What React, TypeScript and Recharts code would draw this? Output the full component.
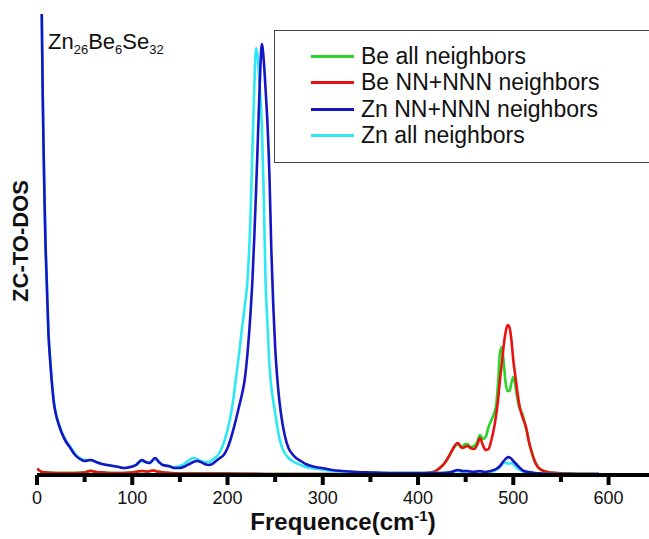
import React from "react";
import { LineChart, Line, XAxis, YAxis, Legend } from "recharts";

// Zn-weighted curves share one frequency grid (cm-1), values in arbitrary DOS units
const znFreq = [
  0, 1, 2, 3, 4, 5, 6, 7, 8, 9, 10, 12, 14, 16, 18, 20, 23, 26, 30, 35, 40, 45, 50, 56, 62, 68, 74, 80, 86,
  92, 98, 104, 110, 114, 118, 124, 128, 132, 138, 144, 150, 156, 160, 164, 168, 172, 176, 180, 184, 188,
  192, 196, 200, 203, 206, 209, 212, 215, 218, 221, 224, 226, 228, 230, 232, 234, 236, 238, 240, 242, 244,
  246, 248, 250, 253, 256, 260, 264, 268, 272, 277, 282, 288, 295, 302, 310, 320, 335, 350, 370, 390, 410,
  425, 435, 442, 447, 452, 458, 465, 470, 476, 482, 486, 490, 493, 495, 497, 500, 503, 507, 511, 516, 522,
  530, 545, 560, 575, 590,
];
const znNNN = [
  720, 650, 590, 540, 500, 460, 380, 320, 270, 228, 200, 142, 112, 88, 70, 60, 50, 42, 34, 27, 20, 16, 14,
  15, 13, 11, 10, 9, 8, 7, 8, 10, 15, 13, 12, 17, 13, 10, 9, 7, 7, 9, 11, 13, 14, 13, 11, 10, 11, 14, 17,
  20, 27, 35, 45, 56, 68, 80, 95, 122, 160, 192, 235, 285, 340, 395, 431, 415, 385, 350, 300, 225, 170,
  128, 88, 62, 40, 27, 21, 17, 14, 11, 9, 7.5, 6.5, 5, 4, 3, 2.5, 2, 2, 2, 2, 3, 5, 4, 4, 3, 4, 3, 4, 6, 9,
  14, 17, 18, 17, 14, 11, 7, 4, 3, 2, 1.5, 1, 1, 1, 1,
];
const znAll = [
  720, 650, 590, 540, 500, 460, 382, 322, 272, 230, 202, 144, 114, 90, 72, 61, 51, 43, 35, 28, 21, 17, 15,
  15, 13, 11, 10, 9, 8, 7, 8, 10, 14, 13, 12, 16, 13, 10, 9, 8, 9, 12, 15, 17, 16, 14, 13, 13, 15, 18, 23,
  32, 45, 58, 75, 98, 120, 145, 168, 195, 255, 320, 385, 427, 415, 385, 350, 280, 192, 150, 110, 88, 74,
  62, 44, 31, 22, 17, 14, 12, 10, 8, 7, 6, 5, 4, 3.5, 3, 2.5, 2, 2, 2, 2, 3, 4, 3, 3, 3, 3, 3, 3, 5, 8, 12,
  12, 11, 12, 11, 8, 5, 3, 2.5, 2, 1.5, 1, 1, 1, 1,
];

// Be-weighted curves share another grid
const beFreq = [
  0, 2, 5, 10, 20, 30, 40, 50, 56, 62, 70, 80, 90, 100, 110, 116, 122, 126, 130, 140, 160, 200, 250, 300,
  350, 400, 410, 416, 420, 424, 428, 432, 436, 439, 442, 445, 447, 450, 452, 455, 459, 462, 465, 468, 471,
  474, 477, 480, 482, 484, 486, 488, 490, 492, 494, 496, 498, 500, 502, 504, 506, 508, 510, 512, 514, 516,
  519, 522, 525, 528, 532, 538, 545, 555, 570, 590,
];
const beNNN = [
  6, 5, 3, 2.5, 2, 2, 2, 2.5, 4, 3, 2.5, 2, 2, 2.5, 4, 3.5, 4.5, 3.5, 3, 2, 1.5, 1.5, 1, 1, 1, 1.5, 2, 3, 5,
  8, 12, 18, 25, 30, 32, 28, 27, 28.5, 29, 27, 26, 30, 37, 30, 25, 26, 35, 48, 60, 75, 95, 112, 130, 143,
  150, 148, 135, 115, 100, 85, 72, 63, 57, 52, 45, 35, 24, 15, 9, 6, 4, 2.5, 2, 1.5, 1, 1,
];
const beAll = [
  6, 5, 3, 2.5, 2, 2, 2, 2.5, 4.5, 3, 2.5, 2, 2, 2.5, 4, 3.5, 4.5, 3.5, 3, 2, 1.5, 1.5, 1, 1, 1, 1.5, 2, 3,
  5, 8, 12, 18, 25, 29, 31, 28, 29, 31, 31, 28, 29, 33, 40, 36, 38, 48, 55, 62, 70, 92, 122, 128, 112, 92,
  84, 84, 92, 98, 90, 78, 68, 64, 60, 52, 45, 35, 24, 15, 9, 6, 4, 2.5, 2, 1.5, 1, 1,
];

const xTicks = [0, 50, 100, 150, 200, 250, 300, 350, 400, 450, 500, 550, 600];

const series = [
  { name: "Be all neighbors", color: "#2bd42b", freq: beFreq, dos: beAll },
  { name: "Be NN+NNN neighbors", color: "#e81212", freq: beFreq, dos: beNNN },
  { name: "Zn NN+NNN neighbors", color: "#1515c4", freq: znFreq, dos: znNNN },
  { name: "Zn all neighbors", color: "#2ee8f4", freq: znFreq, dos: znAll },
];

// draw order: green, red, cyan, blue on top
const drawOrder = [0, 1, 3, 2];

const FONT = "'Liberation Sans', Arial, Helvetica, sans-serif";

function FreqTick(props: any) {
  const { x, y, payload } = props;
  const major = payload.value % 100 === 0;
  return (
    <g>
      <line x1={x} x2={x} y1={y} y2={y + (major ? 10 : 7)} stroke="#000" strokeWidth={4} />
      {major && (
        <text x={x} y={y + 29} textAnchor="middle" fontSize={18} fill="#111" fontFamily={FONT}>
          {payload.value}
        </text>
      )}
    </g>
  );
}

function LegendBox() {
  return (
    <div
      style={{
        width: 400,
        height: 133,
        border: "1px solid #444",
        background: "#fff",
        boxSizing: "border-box",
        paddingTop: 12,
        fontFamily: FONT,
      }}
    >
      {series.map((s) => (
        <div key={s.name} style={{ display: "flex", alignItems: "center", height: 26.5 }}>
          <div style={{ width: 43, height: 3, background: s.color, marginLeft: 36, marginRight: 7 }} />
          <span style={{ fontSize: 23, color: "#111", whiteSpace: "nowrap" }}>{s.name}</span>
        </div>
      ))}
    </div>
  );
}

export default function App() {
  return (
    <div
      style={{
        position: "absolute",
        left: 0,
        top: 0,
        width: 649,
        height: 539,
        overflow: "hidden",
        background: "#fff",
        fontFamily: FONT,
      }}
    >
      <LineChart width={680} height={539} margin={{ top: 14, right: 0, bottom: 34, left: 37 }}>
        <XAxis
          type="number"
          dataKey="f"
          domain={[0, 675]}
          ticks={xTicks}
          interval={0}
          height={30}
          tickSize={0}
          tickMargin={0}
          tickLine={false}
          tick={<FreqTick />}
          axisLine={{ stroke: "#000", strokeWidth: 4 }}
          allowDataOverflow
        />
        <XAxis
          xAxisId="top"
          orientation="top"
          type="number"
          domain={[0, 675]}
          height={0}
          tick={false}
          tickLine={false}
          axisLine={{ stroke: "#000", strokeWidth: 4 }}
        />
        <YAxis
          type="number"
          domain={[0, 461]}
          width={0}
          tick={false}
          tickLine={false}
          axisLine={{ stroke: "#000", strokeWidth: 4 }}
          allowDataOverflow
        />
        <Legend
          layout="vertical"
          align="center"
          verticalAlign="middle"
          wrapperStyle={{ left: 274, top: 30, width: 400 }}
          content={() => <LegendBox />}
        />
        {drawOrder.map((i) => {
          const s = series[i];
          const data = s.freq.map((f, k) => ({ f, v: s.dos[k] }));
          return (
            <Line
              key={s.name}
              data={data}
              dataKey="v"
              name={s.name}
              type="monotone"
              stroke={s.color}
              strokeWidth={2.6}
              dot={false}
              activeDot={false}
              isAnimationActive={false}
            />
          );
        })}
      </LineChart>

      <div
        style={{ position: "absolute", left: 48, top: 29, fontSize: 22, color: "#111", whiteSpace: "nowrap" }}
      >
        Zn<sub style={{ fontSize: 13 }}>26</sub>Be<sub style={{ fontSize: 13 }}>6</sub>Se
        <sub style={{ fontSize: 13 }}>32</sub>
      </div>

      <div
        style={{
          position: "absolute",
          left: 21,
          top: 241,
          transform: "translate(-50%, -50%) rotate(-90deg)",
          fontSize: 22,
          fontWeight: "bold",
          color: "#111",
          whiteSpace: "nowrap",
        }}
      >
        ZC-TO-DOS
      </div>

      <div
        style={{
          position: "absolute",
          left: 343,
          top: 521,
          transform: "translate(-50%, -50%)",
          fontSize: 24,
          fontWeight: "bold",
          color: "#111",
          whiteSpace: "nowrap",
        }}
      >
        Frequence(cm<sup style={{ fontSize: 15 }}>-1</sup>)
      </div>
    </div>
  );
}
